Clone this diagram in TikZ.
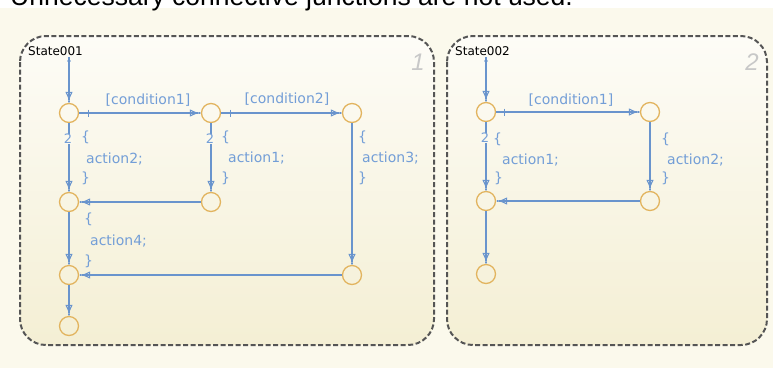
\documentclass[tikz,border=0pt]{standalone}
\usepackage{fontspec}
\setmainfont{DejaVu Sans}
\newfontfamily\hdrfont{Liberation Sans}
\newfontfamily\lblfont{DejaVu Sans}
\usetikzlibrary{arrows.meta}
\definecolor{bgcream}{RGB}{251,249,236}
\definecolor{sttop}{RGB}{253,252,247}
\definecolor{stbot}{RGB}{244,239,212}
\definecolor{bordercol}{RGB}{85,85,85}
\definecolor{juncol}{RGB}{226,180,95}
\definecolor{linecol}{RGB}{105,148,205}
\definecolor{labcol}{RGB}{115,158,215}
\definecolor{numcol}{RGB}{200,200,200}
\tikzset{
  junc/.style={circle, draw=juncol, line width=1.3pt, minimum size=19pt, inner sep=0pt},
  trans/.style={draw=linecol, line width=1.2pt,
    -{Triangle[open,length=8pt,width=7pt,line width=1.1pt]Rectangle[length=3pt,width=1.2pt]}},
  lbl/.style={text=labcol, font=\lblfont\fontsize{14}{16}\selectfont, inner sep=0pt},
  ordnum/.style={text=labcol, font=\lblfont\fontsize{13}{14}\selectfont, inner sep=0.6pt, fill=sttop!75!stbot},
  statebox/.style={draw=bordercol, line width=2pt, dash pattern=on 5pt off 2.5pt, rounded corners=26pt},
  title/.style={anchor=west, inner sep=0pt, font=\fontsize{12}{13}\selectfont},
  bignum/.style={text=numcol, font=\hdrfont\itshape\fontsize{24}{24}\selectfont},
  tick/.style={draw=linecol, line width=1pt}
}
\begin{document}
\begin{tikzpicture}[x=1pt,y=-1pt]
\useasboundingbox (0,0) rectangle (773,368);
\clip (0,0) rectangle (773,368);
\fill[white] (0,0) rectangle (773,8);
\fill[bgcream] (0,8) rectangle (773,368);
\node[anchor=base west, inner sep=0pt, font=\hdrfont\fontsize{26.5}{30}\selectfont] (hdr) at (10,5) {Unnecessary connective junctions are not used.};

% state boxes
\path[statebox, top color=sttop, bottom color=stbot] (20,36) rectangle (434,345);
\path[statebox, top color=sttop, bottom color=stbot] (447,36) rectangle (767,345);
\node[title] (t1) at (28,51) {State001};
\node[title] (t2) at (455,51) {State002};
\node[bignum] (n1) at (418,62) {1};
\node[bignum] (n2) at (752,62) {2};

% junctions State001
\node[junc] (a1) at (69,113) {};
\node[junc] (a2) at (211,113) {};
\node[junc] (a3) at (352,113) {};
\node[junc] (a4) at (69,202) {};
\node[junc] (a5) at (211,202) {};
\node[junc] (a6) at (69,275) {};
\node[junc] (a7) at (352,275) {};
\node[junc] (a8) at (69,326) {};

% junctions State002
\node[junc] (b1) at (486,112) {};
\node[junc] (b2) at (650,112) {};
\node[junc] (b3) at (486,201) {};
\node[junc] (b4) at (650,201) {};
\node[junc] (b5) at (486,274) {};

% default transitions
\coordinate (s1) at (69,57);
\coordinate (s2) at (486,57);
\fill[linecol] (69,61) circle (1.8);
\fill[linecol] (486,61) circle (1.8);
\draw[trans] (s1) -- (a1);
\draw[trans] (s2) -- (b1);

% State001 transitions
\draw[trans] (a1) -- (a2);
\draw[trans] (a2) -- (a3);
\draw[trans] (a1) -- (a4);
\draw[trans] (a2) -- (a5);
\draw[trans] (a3) -- (a7);
\draw[trans] (a5) -- (a4);
\draw[trans] (a4) -- (a6);
\draw[trans] (a7) -- (a6);
\draw[trans] (a6) -- (a8);
\draw[tick] ([xshift=9pt]a1.east) ++(0,-3.5) -- ++(0,7);
\draw[tick] ([xshift=9pt]a2.east) ++(0,-3.5) -- ++(0,7);

\node[lbl] (c1) at (148,100) {[condition1]};
\node[lbl] (c2) at (287,99) {[condition2]};
\node[ordnum] (o1) at (68,139) {2};
\node[ordnum] (o2) at (210,139) {2};

\node[lbl, anchor=west] (l1a) at (81,137) {\{};
\node[lbl, anchor=west] (l1b) at (86,159) {action2;};
\node[lbl, anchor=west] (l1c) at (81,178) {\}};

\node[lbl, anchor=west] (l2a) at (221,137) {\{};
\node[lbl, anchor=west] (l2b) at (228,158) {action1;};
\node[lbl, anchor=west] (l2c) at (221,178) {\}};

\node[lbl, anchor=west] (l3a) at (358,137) {\{};
\node[lbl, anchor=west] (l3b) at (362,158) {action3;};
\node[lbl, anchor=west] (l3c) at (358,178) {\}};

\node[lbl, anchor=west] (l4a) at (84,219) {\{};
\node[lbl, anchor=west] (l4b) at (90,241) {action4;};
\node[lbl, anchor=west] (l4c) at (84,261) {\}};

% State002 transitions
\draw[trans] (b1) -- (b2);
\draw[trans] (b1) -- (b3);
\draw[trans] (b2) -- (b4);
\draw[trans] (b4) -- (b3);
\draw[trans] (b3) -- (b5);
\draw[tick] ([xshift=8pt]b1.east) ++(0,-3.5) -- ++(0,7);

\node[lbl] (c3) at (571,100) {[condition1]};
\node[ordnum] (o3) at (485,138) {2};
\node[lbl, anchor=west] (m1a) at (493,139) {\{};
\node[lbl, anchor=west] (m1b) at (502,160) {action1;};
\node[lbl, anchor=west] (m1c) at (494,178) {\}};

\node[lbl, anchor=west] (m2a) at (661,139) {\{};
\node[lbl, anchor=west] (m2b) at (667,160) {action2;};
\node[lbl, anchor=west] (m2c) at (661,178) {\}};
\end{tikzpicture}
\end{document}
